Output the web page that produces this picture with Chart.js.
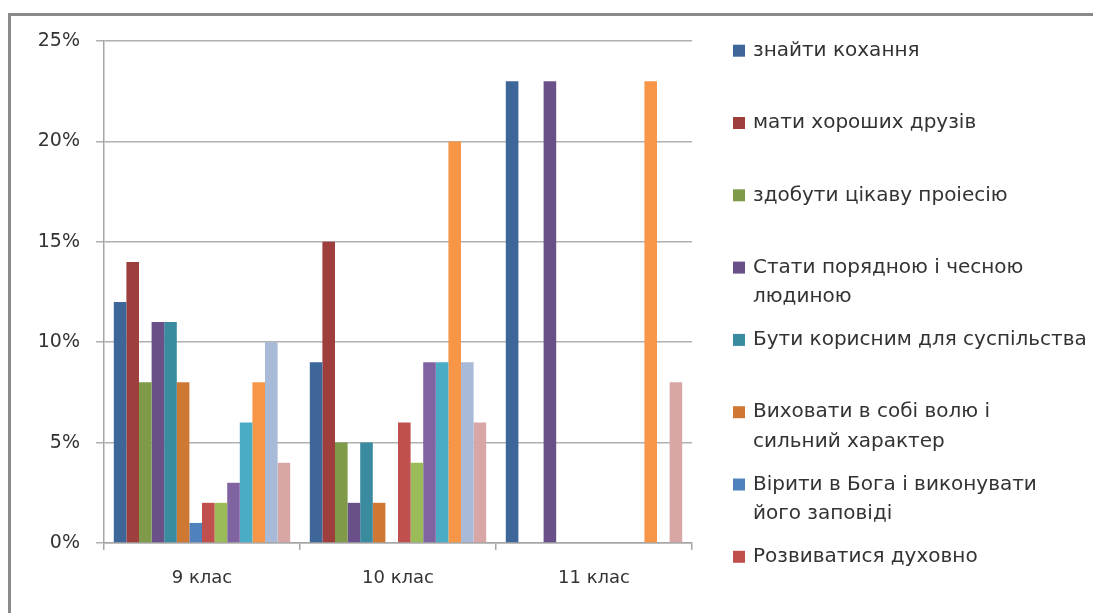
<!DOCTYPE html>
<html>
<head>
<meta charset="utf-8">
<script src="https://cdn.jsdelivr.net/npm/chart.js@4"></script>
<style>
    html, body { margin: 0; background: #fff; overflow: hidden; width: 1093px; height: 613px; }
    #frame {
        position: absolute; left: 8px; top: 13px; width: 1200px; height: 700px;
        border-left: 3px solid #8a8a8a; border-top: 3px solid #8a8a8a;
    }
    #wrap { position: absolute; left: 0; top: 0; width: 1093px; height: 613px; }
</style>
</head>
<body>
<div id="frame"></div>
<div id="wrap"><canvas id="chart" width="1093" height="613"></canvas></div>
<script>
// Categories
const classes = ['9 клас', '10 клас', '11 клас'];

// Series names (only the first 8 fit in the legend of the original)
const seriesNames = [
    'знайти кохання',
    'мати хороших друзів',
    'здобути цікаву проіесію',
    'Стати порядною і чесною людиною',
    'Бути корисним для суспільства',
    'Виховати в собі волю і сильний характер',
    'Вірити в Бога і виконувати його заповіді',
    'Розвиватися духовно',
    'Ряд 9', 'Ряд 10', 'Ряд 11', 'Ряд 12', 'Ряд 13', 'Ряд 14'
];

// Legend lines as they wrap in the picture
const legendLines = [
    ['знайти кохання'],
    ['мати хороших друзів'],
    ['здобути цікаву проіесію'],
    ['Стати порядною і чесною', 'людиною'],
    ['Бути корисним для суспільства'],
    ['Виховати в собі волю і', 'сильний характер'],
    ['Вірити в Бога і виконувати', 'його заповіді'],
    ['Розвиватися духовно']
];

// Values in percent: one array per series, [9 клас, 10 клас, 11 клас]
const s1  = [12, 9, 23];
const s2  = [14, 15, 0];
const s3  = [8, 5, 0];
const s4  = [11, 2, 23];
const s5  = [11, 5, 0];
const s6  = [8, 2, 0];
const s7  = [1, 0, 0];
const s8  = [2, 6, 0];
const s9  = [2, 4, 0];
const s10 = [3, 9, 0];
const s11 = [6, 9, 0];
const s12 = [8, 20, 23];
const s13 = [10, 9, 0];
const s14 = [4, 6, 8];
const seriesValues = [s1, s2, s3, s4, s5, s6, s7, s8, s9, s10, s11, s12, s13, s14];

const yTicks = [0, 5, 10, 15, 20, 25];

const colors = [
    '#3F6698', '#9E3F3D', '#7F9A48', '#6A5088', '#3A8BA0', '#CF7833',
    '#4F81BD', '#C0504D', '#9BBB59', '#8064A2', '#4BACC6', '#F79646',
    '#A9B9D8', '#D9A6A6'
];

const textColor = '#333333';
const fontFamily = '"DejaVu Sans", sans-serif';

// Legend drawn on the right, with wrapped lines like the original
const sideLegend = {
    id: 'sideLegend',
    afterDraw(chart) {
        const ctx = chart.ctx;
        ctx.save();
        ctx.font = '20px ' + fontFamily;
        ctx.textBaseline = 'middle';
        legendLines.forEach((lines, i) => {
            const y = 50.7 + 72.3 * i;
            ctx.fillStyle = colors[i];
            ctx.fillRect(733, y - 6, 12, 12);
            ctx.fillStyle = textColor;
            lines.forEach((line, j) => {
                ctx.fillText(line, 753, y + j * 29.5);
            });
        });
        ctx.restore();
    }
};

new Chart(document.getElementById('chart'), {
    type: 'bar',
    data: {
        labels: classes,
        datasets: seriesValues.map((vals, i) => ({
            label: seriesNames[i],
            data: vals,
            backgroundColor: colors[i],
            borderWidth: 0,
            categoryPercentage: 0.9,
            barPercentage: 1.0
        }))
    },
    options: {
        responsive: false,
        animation: false,
        layout: {
            padding: { left: 0, top: 41, right: 401, bottom: 0 }
        },
        plugins: {
            legend: { display: false },
            tooltip: { enabled: false }
        },
        scales: {
            x: {
                afterFit: (scale) => { scale.height = 70; },
                grid: {
                    display: true,
                    drawOnChartArea: false,
                    drawTicks: true,
                    tickLength: 7,
                    color: '#a6a6a6',
                    lineWidth: 1.5
                },
                border: { color: '#a6a6a6', width: 1.5 },
                ticks: {
                    color: textColor,
                    font: { family: fontFamily, size: 18 },
                    padding: 18
                }
            },
            y: {
                min: 0,
                max: 25,
                afterFit: (scale) => { scale.width = 104; },
                afterBuildTicks: (scale) => {
                    scale.ticks = yTicks.map(v => ({ value: v }));
                },
                grid: {
                    color: '#b0b0b0',
                    lineWidth: 1.5,
                    tickLength: 8
                },
                border: { color: '#a6a6a6', width: 1.5 },
                ticks: {
                    color: textColor,
                    font: { family: fontFamily, size: 19 },
                    padding: 16,
                    callback: (v) => v + '%'
                }
            }
        }
    },
    plugins: [sideLegend]
});
</script>
</body>
</html>
